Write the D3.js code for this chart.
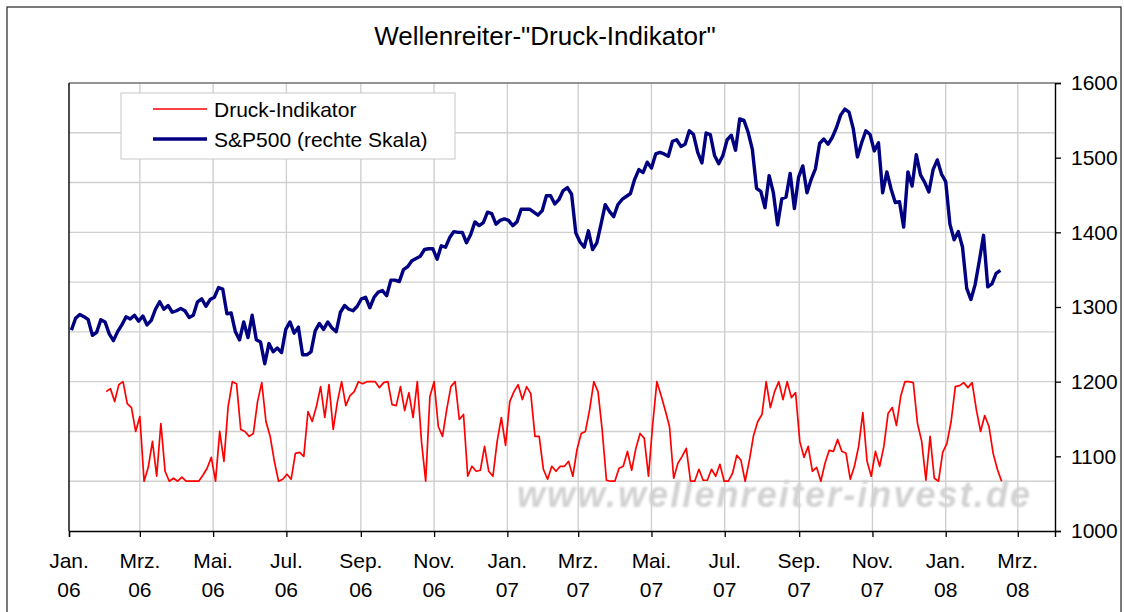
<!DOCTYPE html>
<html>
<head>
<meta charset="utf-8">
<script src="https://cdn.jsdelivr.net/npm/d3@7"></script>
<style>
  body { margin: 0; background: #fff; }
  text { font-family: Arial, "Liberation Sans", sans-serif; fill: #000; }
</style>
</head>
<body>
<svg id="chart" width="1124" height="612"></svg>
<script>
// S&P500, two readings per week starting 2006-01-03
const spStart = '2006-01-03';
const stepDays = 3.5;
const sp500 = [
  1269, 1285, 1290, 1287, 1283, 1262, 1266, 1283, 1280,
  1264, 1255, 1267, 1276, 1287, 1284, 1289, 1281,
  1288, 1276, 1282, 1297, 1307, 1297, 1302, 1293, 1295,
  1298, 1295, 1286, 1289, 1307, 1311, 1301, 1310,
  1313, 1326, 1324, 1291, 1292, 1267, 1256, 1280, 1259,
  1289, 1256, 1253, 1224, 1251, 1240, 1245, 1239, 1270,
  1280, 1265, 1273, 1236, 1236, 1240, 1268, 1278,
  1270, 1280, 1272, 1267, 1293, 1302, 1297, 1295, 1301,
  1311, 1313, 1299, 1313, 1320, 1322, 1315, 1336, 1336,
  1334, 1350, 1354, 1362, 1365, 1368, 1377, 1378, 1378,
  1364, 1382, 1380, 1393, 1401, 1400, 1400, 1386,
  1397, 1414, 1409, 1413, 1427, 1425, 1411, 1416, 1418,
  1416, 1409, 1414, 1431, 1431, 1431, 1427, 1423, 1429,
  1449, 1449, 1438, 1444, 1456, 1460, 1451, 1399,
  1387, 1380, 1402, 1377, 1386, 1411, 1437, 1428, 1421,
  1437, 1444, 1448, 1452, 1471, 1484, 1480, 1494,
  1486, 1505, 1507, 1505, 1502, 1522, 1524, 1515, 1518,
  1536, 1531, 1507, 1493, 1533, 1531, 1503, 1492, 1503,
  1524, 1530, 1510, 1552, 1550, 1534, 1511, 1459, 1455,
  1433, 1476, 1453, 1410, 1445, 1447, 1479, 1432, 1474,
  1489, 1453, 1471, 1485, 1519, 1525, 1518, 1527,
  1540, 1557, 1565, 1561, 1539, 1501, 1520, 1536, 1531,
  1509, 1520, 1453, 1481, 1458, 1440, 1441, 1407, 1481,
  1462, 1504, 1477, 1467, 1454, 1484, 1497, 1478,
  1468, 1411, 1390, 1401, 1380, 1325, 1310, 1330, 1362,
  1396, 1327, 1331, 1345, 1349
];

// Druck-Indikator (0..100, hidden left scale), same step, from 2006-02-01
const druckStart = '2006-02-01';
const druck = [
  90, 93, 80, 97, 100, 78, 74, 50, 65, 0,
  14, 40, 5, 58, 10, 0, 3, 0, 4, 0,
  0, 0, 0, 6, 13, 24, 0, 50, 20, 75,
  100, 98, 52, 50, 45, 48, 80, 99, 60, 45,
  20, 0, 2, 7, 2, 28, 29, 25, 70, 60,
  75, 95, 64, 97, 52, 80, 100, 76, 86, 90,
  100, 98, 100, 100, 100, 94, 99, 100, 77, 76,
  95, 71, 89, 64, 100, 40, 0, 85, 100, 55,
  45, 72, 95, 100, 62, 67, 5, 15, 10, 11,
  35, 10, 5, 40, 64, 36, 80, 90, 97, 82,
  95, 88, 45, 45, 12, 2, 15, 10, 15, 15,
  20, 5, 32, 48, 50, 72, 100, 90, 51, 1,
  0, 0, 13, 15, 30, 11, 33, 48, 43, 5,
  57, 100, 86, 71, 55, 3, 18, 25, 33, 0,
  0, 12, 1, 1, 12, 5, 17, 0, 0, 8,
  26, 21, 0, 21, 46, 60, 67, 100, 74, 90,
  100, 82, 100, 84, 89, 40, 24, 35, 10, 14,
  0, 18, 31, 30, 42, 30, 28, 2, 15, 35,
  69, 20, 5, 30, 15, 35, 68, 74, 56, 85,
  100, 100, 99, 58, 40, 1, 45, 3, 0, 29,
  38, 60, 95, 96, 99, 94, 99, 72, 50, 66,
  55, 28, 12, 0
];

const monthLabels = ['Jan.', 'Mrz.', 'Mai.', 'Jul.', 'Sep.', 'Nov.'];
const rightTicks = [1000, 1100, 1200, 1300, 1400, 1500, 1600];
const leftGrid = [-50, 0, 50, 100, 150, 200, 250, 300, 350, 400];

const plotLeft = 69, plotRight = 1055, plotTop = 83, plotBottom = 531;

const svg = d3.select('#chart');

const dayMs = 24 * 3600 * 1000;
const toSeries = (start, values) => {
  const t0 = new Date(start + 'T00:00:00Z').getTime();
  return values.map((v, i) => ({ date: new Date(t0 + i * stepDays * dayMs), value: v }));
};
const spData = toSeries(spStart, sp500);
const druckData = toSeries(druckStart, druck);

const xscale = d3.scaleUtc()
  .domain([new Date('2006-01-01T00:00:00Z'), new Date('2008-04-01T00:00:00Z')])
  .range([plotLeft, plotRight]);

const yRight = d3.scaleLinear().domain([1000, 1600]).range([plotBottom, plotTop]);
const yLeft = d3.scaleLinear().domain([-50, 400]).range([plotBottom, plotTop]);

const monthTicks = d3.utcMonth.every(2).range(new Date('2006-01-01T00:00:00Z'), new Date('2008-03-02T00:00:00Z'));

// outer frame
svg.append('rect')
  .attr('x', 7).attr('y', 7)
  .attr('width', 1114).attr('height', 640)
  .attr('fill', 'none')
  .attr('stroke', '#222')
  .attr('stroke-width', 1.2);

// title
svg.append('text')
  .text('Wellenreiter-"Druck-Indikator"')
  .attr('x', 545)
  .attr('y', 45)
  .attr('text-anchor', 'middle')
  .style('font-size', '26px');

// gridlines
const grid = svg.append('g')
  .attr('stroke', '#d0d0d0')
  .attr('stroke-width', 1.4);

grid.selectAll('line.h')
  .data(leftGrid.filter(d => d > -50 && d < 400))
  .enter()
  .append('line')
  .attr('class', 'h')
  .attr('x1', plotLeft).attr('x2', plotRight)
  .attr('y1', d => yLeft(d)).attr('y2', d => yLeft(d));

grid.selectAll('line.v')
  .data(monthTicks.slice(1))
  .enter()
  .append('line')
  .attr('class', 'v')
  .attr('x1', d => xscale(d)).attr('x2', d => xscale(d))
  .attr('y1', plotTop).attr('y2', plotBottom);

// watermark
svg.append('defs')
  .append('filter')
  .attr('id', 'soft')
  .append('feGaussianBlur')
  .attr('stdDeviation', 0.8);

svg.append('text')
  .text('www.wellenreiter-invest.de')
  .attr('x', 517)
  .attr('y', 507)
  .attr('textLength', 513)
  .attr('lengthAdjust', 'spacing')
  .attr('filter', 'url(#soft)')
  .style('font-size', '36px')
  .style('font-style', 'italic')
  .style('font-weight', 'bold')
  .style('fill', '#d2d2d2');

// plot top border
svg.append('line')
  .attr('x1', plotLeft).attr('x2', plotRight)
  .attr('y1', plotTop).attr('y2', plotTop)
  .attr('stroke', '#707070')
  .attr('stroke-width', 1.3);

// lines
const druckLine = d3.line()
  .x(d => xscale(d.date))
  .y(d => yLeft(d.value));

const spLine = d3.line()
  .x(d => xscale(d.date))
  .y(d => yRight(d.value));

svg.append('path')
  .datum(druckData)
  .attr('d', druckLine)
  .attr('fill', 'none')
  .attr('stroke', '#ff0000')
  .attr('stroke-width', 1.7)
  .attr('stroke-linejoin', 'round');

svg.append('path')
  .datum(spData)
  .attr('d', spLine)
  .attr('fill', 'none')
  .attr('stroke', '#000080')
  .attr('stroke-width', 3.4)
  .attr('stroke-linejoin', 'round');

// axes
const rightAxis = d3.axisRight(yRight)
  .tickValues(rightTicks)
  .tickSize(6)
  .tickPadding(10)
  .tickFormat(d3.format('d'));

const ra = svg.append('g')
  .attr('transform', `translate(${plotRight}, 0)`)
  .call(rightAxis);

ra.select('.domain').attr('stroke', '#000').attr('stroke-width', 1.4);
ra.selectAll('.tick line').attr('stroke', '#000').attr('stroke-width', 1.3);
ra.selectAll('.tick text')
  .style('font-size', '21px')
  .style('font-family', 'Arial, "Liberation Sans", sans-serif');

const bottomAxis = d3.axisBottom(xscale)
  .tickValues(monthTicks)
  .tickSize(6)
  .tickFormat('');

const ba = svg.append('g')
  .attr('transform', `translate(0, ${plotBottom})`)
  .call(bottomAxis);

ba.select('.domain').attr('stroke', '#000').attr('stroke-width', 1.4);
ba.selectAll('.tick line').attr('stroke', '#000').attr('stroke-width', 1.3);

const xlabels = svg.append('g')
  .selectAll('text')
  .data(monthTicks)
  .enter()
  .append('text')
  .attr('text-anchor', 'middle')
  .style('font-size', '21px');

xlabels.append('tspan')
  .attr('x', d => xscale(d))
  .attr('y', 568)
  .text(d => monthLabels[d.getUTCMonth() / 2]);

xlabels.append('tspan')
  .attr('x', d => xscale(d))
  .attr('y', 597)
  .text(d => String(d.getUTCFullYear()).slice(2));

// left axis line
svg.append('line')
  .attr('x1', plotLeft).attr('x2', plotLeft)
  .attr('y1', plotTop).attr('y2', plotBottom)
  .attr('stroke', '#000')
  .attr('stroke-width', 1.4);

// legend
const legend = svg.append('g');

legend.append('rect')
  .attr('x', 121).attr('y', 93)
  .attr('width', 334).attr('height', 66)
  .attr('fill', '#fff')
  .attr('stroke', '#c8c8c8')
  .attr('stroke-width', 1);

const legendItems = [
  { label: 'Druck-Indikator', color: '#ff0000', width: 1.7 },
  { label: 'S&P500 (rechte Skala)', color: '#000080', width: 3.4 }
];

legend.selectAll('line')
  .data(legendItems)
  .enter()
  .append('line')
  .attr('x1', 153).attr('x2', 207)
  .attr('y1', (d, i) => 109 + i * 30)
  .attr('y2', (d, i) => 109 + i * 30)
  .attr('stroke', d => d.color)
  .attr('stroke-width', d => d.width);

legend.selectAll('text')
  .data(legendItems)
  .enter()
  .append('text')
  .text(d => d.label)
  .attr('x', 214)
  .attr('y', (d, i) => 116.5 + i * 30)
  .style('font-size', '21px');
</script>
</body>
</html>
